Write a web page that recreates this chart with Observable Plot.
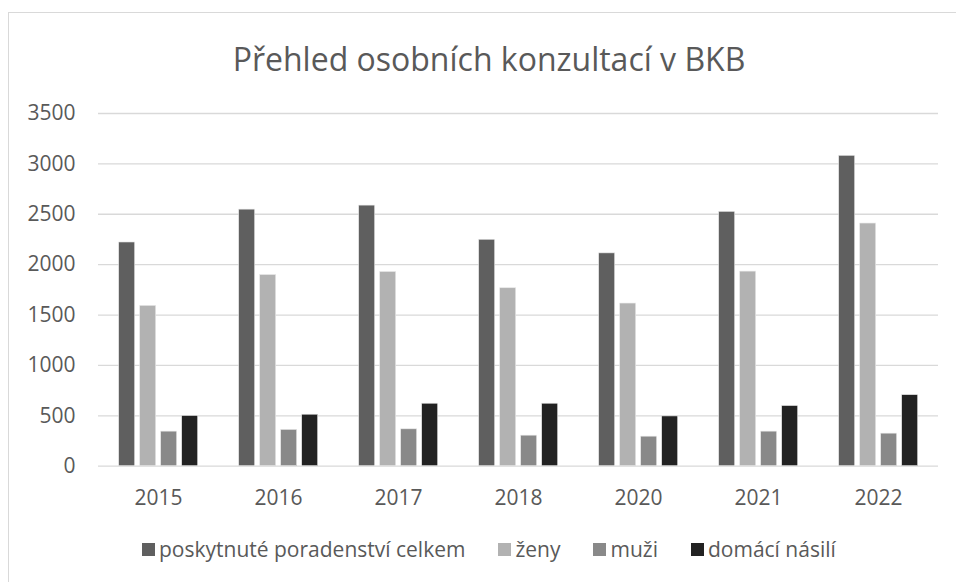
<!DOCTYPE html>
<html>
<head>
<meta charset="utf-8">
<script src="https://cdn.jsdelivr.net/npm/d3@7"></script>
<script src="https://cdn.jsdelivr.net/npm/@observablehq/plot@0.6"></script>
<style>
  html, body { margin: 0; padding: 0; background: #fff; }
  #wrap { position: relative; width: 956px; height: 582px; overflow: hidden; font-family: "Open Sans", sans-serif; color: #595959; }
  #frame { position: absolute; left: 8px; top: 12px; width: 1000px; height: 700px; border-left: 1.5px solid #d9d9d9; border-top: 1.5px solid #d9d9d9; box-sizing: border-box; }
  #title { position: absolute; top: 37px; left: 0; width: 978px; text-align: center; font-size: 32px; line-height: 44px; white-space: nowrap; }
  #chart { position: absolute; left: 0; top: 0; }
  #legend { position: absolute; top: 535px; left: 142px; display: flex; font-size: 21px; line-height: 28px; white-space: nowrap; }
  #legend .item { display: flex; align-items: center; margin-right: 33px; }
  #legend .sw { width: 13px; height: 13px; margin-right: 4px; }
</style>
</head>
<body>
<div id="wrap">
  <div id="frame"></div>
  <div id="title"></div>
  <div id="chart"></div>
  <div id="legend"></div>
</div>
<script>
const titleText = "Přehled osobních konzultací v BKB";
const years = ["2015", "2016", "2017", "2018", "2020", "2021", "2022"];
const series = ["poskytnuté poradenství celkem", "ženy", "muži", "domácí násilí"];
const colors = ["#5f5f5f", "#b2b2b2", "#898989", "#222222"];
const celkem = [2220, 2546, 2586, 2247, 2112, 2524, 3080];
const zeny = [1591, 1897, 1927, 1766, 1614, 1931, 2408];
const muzi = [343, 360, 366, 303, 293, 343, 323];
const nasili = [498, 511, 620, 620, 494, 597, 705];
const yTicks = [0, 500, 1000, 1500, 2000, 2500, 3000, 3500];

const valuesBySeries = [celkem, zeny, muzi, nasili];
const table = [];
years.forEach((yr, i) => {
  series.forEach((s, j) => {
    table.push({year: yr, series: s, value: valuesBySeries[j][i]});
  });
});

document.getElementById("title").textContent = titleText;

const chart = Plot.plot({
  width: 956,
  height: 582,
  marginTop: 113,
  marginBottom: 116.3,
  marginLeft: 97.3,
  marginRight: 16.5,
  style: {fontFamily: "Open Sans, sans-serif", fontSize: "21px", color: "#595959", background: "transparent", overflow: "visible"},
  facet: {data: table, x: "year"},
  fx: {domain: years, padding: 0, axis: "bottom", tickSize: 0, tickPadding: 23.4, label: null},
  x: {domain: series, axis: null, paddingInner: 0.22, paddingOuter: 0.87},
  y: {domain: [0, 3500], ticks: yTicks, tickSize: 0, tickPadding: 23, label: null, tickFormat: d => String(d)},
  color: {domain: series, range: colors},
  marks: [
    Plot.ruleY(yTicks, {stroke: "#d9d9d9", strokeWidth: 1.3}),
    Plot.barY(table, {x: "series", y: "value", fill: "series", stroke: "#e8e8e8", strokeWidth: 0.6})
  ]
});
document.getElementById("chart").appendChild(chart);

const legend = document.getElementById("legend");
series.forEach((s, j) => {
  const item = document.createElement("div");
  item.className = "item";
  const sw = document.createElement("div");
  sw.className = "sw";
  sw.style.background = colors[j];
  const lbl = document.createElement("span");
  lbl.textContent = s;
  item.appendChild(sw);
  item.appendChild(lbl);
  legend.appendChild(item);
});
</script>
</body>
</html>
